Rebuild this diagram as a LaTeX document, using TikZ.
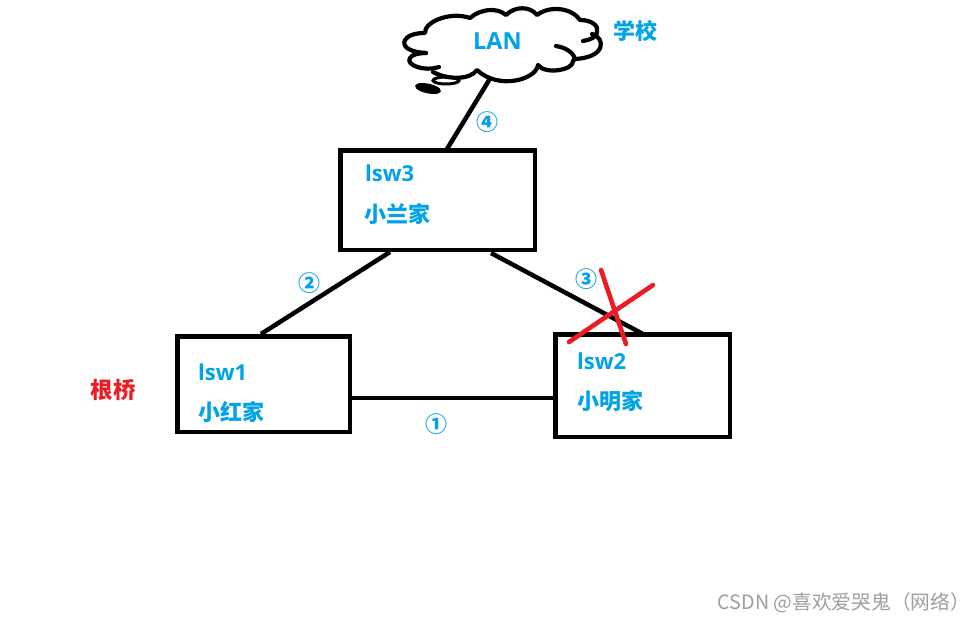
\documentclass[tikz,border=0pt]{standalone}
\usepackage{fontspec}
\setmainfont{Open Sans}
\newfontfamily\cjk{Noto Sans CJK SC}
\definecolor{txtblue}{RGB}{0,162,232}
\definecolor{crossred}{RGB}{237,28,36}
\tikzset{
  x=1pt,y=-1pt,
  box/.style={draw=black,line width=4.5pt,minimum width=#1,inner sep=0pt,anchor=north west},
  link/.style={draw=black,line width=4.5pt},
  cloudline/.style={draw=black,line width=4.2pt,line cap=round,line join=round},
  lab/.style={text=txtblue,font=\bfseries\fontsize{22}{24}\selectfont,inner sep=0pt},
  cjklab/.style={text=txtblue,font=\cjk\bfseries\fontsize{22}{24}\selectfont,inner sep=0pt},
  num/.style={text=txtblue,font=\cjk\bfseries\fontsize{22}{24}\selectfont,inner sep=0pt},
  crossline/.style={draw=crossred,line width=4.6pt,line cap=round}
}
\begin{document}
\begin{tikzpicture}
\useasboundingbox (0,0) rectangle (972,622);
\fill[white] (0,0) rectangle (972,622);
% switches
\node[box=194.5pt,minimum height=99.5pt] (s3) at (338,148) {};
\node[box=172.5pt,minimum height=95.5pt] (s1) at (175,334) {};
\node[box=174.5pt,minimum height=102.5pt] (s2) at (553,332) {};
% cloud
\draw[cloudline] (426,53) .. controls (408,52) and (402,46) .. (405,40)
  .. controls (408,35) and (416,33) .. (425,33)
  .. controls (424,22) and (450,11) .. (470,18)
  .. controls (480,9) and (497,7) .. (506,15)
  .. controls (515,6) and (530,6) .. (537,15)
  .. controls (550,5) and (572,8) .. (580,20)
  .. controls (592,20) and (599,26) .. (597,32)
  .. controls (597,37) and (590,40) .. (583,41);
\draw[cloudline] (592,34) .. controls (606,38) and (606,58) .. (574,59);
\draw[cloudline] (556,46) .. controls (570,48) and (578,58) .. (573,61)
  .. controls (574,70) and (545,75) .. (538,65)
  .. controls (536,80) and (498,90) .. (477,70)
  .. controls (470,80) and (448,80) .. (433,72);
\draw[cloudline] (439,67) .. controls (425,72) and (405,65) .. (410,58)
  .. controls (412,54) and (420,53) .. (426,53);
\draw[black,line width=3pt] (446,80.5) ellipse [x radius=13,y radius=3.5];
\draw[black,line width=3.6pt,fill=black,rotate around={-12:(428,88.5)}] (428,88.5) ellipse [x radius=11,y radius=3];
\coordinate (cloudfoot) at (491,77);
% connectors
\path[link] (cloudfoot) -- (447,149);
\path[link] (390,252) -- (261,334);
\path[link] (491,253) -- (643,334);
\path[link] (s1.east |- 0,398) -- (s2.west |- 0,398);
% cross
\path[crossline] (601,270) -- (626,344);
\path[crossline] (653,285) -- (569,342);
% labels
\node[lab,font=\bfseries\fontsize{23.5}{24}\selectfont] (lan) at (497.5,41) {LAN};
\node[cjklab] (school) at (635.5,31) {学校};
\node[lab,anchor=west] (l3) at (365,173) {lsw3};
\node[cjklab,anchor=west] (h3) at (364,214) {小兰家};
\node[lab,anchor=west] (l1) at (198,372) {lsw1};
\node[cjklab,anchor=west] (h1) at (198,412) {小红家};
\node[lab,anchor=west] (l2) at (577,361) {lsw2};
\node[cjklab,anchor=west] (h2) at (577,401) {小明家};
\node[text=crossred,font=\cjk\bfseries\fontsize{22.5}{24}\selectfont,inner sep=0pt] (root) at (113,390) {根桥};
\node[num] (n4) at (487,122) {④};
\node[num] (n2) at (309,283) {②};
\node[num] (n3) at (586,279) {③};
\node[num] (n1) at (436,424) {①};
\node[text=black!38,font=\fontsize{19.7}{20}\selectfont\cjk,inner sep=0pt,anchor=east] (mark) at (970,603) {CSDN @喜欢爱哭鬼（网络）};
\end{tikzpicture}
\end{document}
